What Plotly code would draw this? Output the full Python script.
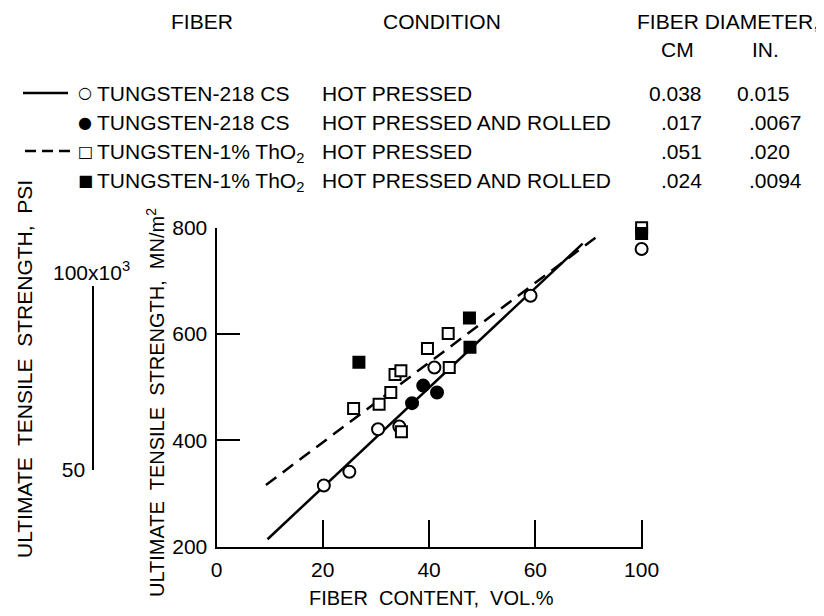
import plotly.graph_objects as go

# ---------------- data ----------------
# x: fiber content, vol.%   y: ultimate tensile strength, MN/m^2
w218_hp_x = [20.2, 25.0, 30.4, 34.4, 41.0, 59.1, 100]
w218_hp_y = [315, 341, 421, 426, 537, 672, 760]

w218_hpr_x = [36.8, 38.9, 41.5]
w218_hpr_y = [470, 503, 490]

wtho2_hp_x = [25.8, 30.6, 32.8, 33.6, 34.7, 34.8, 39.7, 43.6, 43.8, 100]
wtho2_hp_y = [460, 468, 490, 524, 531, 416, 573, 601, 537, 800]

wtho2_hpr_x = [26.8, 47.6, 47.7, 100]
wtho2_hpr_y = [547, 630, 575, 789]

# fitted lines
w218_fit_x = [9.6, 68.9]
w218_fit_y = [214, 770]
wtho2_fit_x = [9.3, 72.1]
wtho2_fit_y = [316, 787]

# axis ticks (the x axis is broken: 100 % sits where 80 would be)
x_tick_values = [0, 20, 40, 60, 100]
y_tick_values = [200, 400, 600, 800]
psi_tick_values = [50, 100]          # ksi
MPA_PER_KSI = 6.89476

# legend / header table
fiber_names = ["TUNGSTEN-218 CS", "TUNGSTEN-218 CS",
               "TUNGSTEN-1% ThO<sub>2</sub>", "TUNGSTEN-1% ThO<sub>2</sub>"]
conditions = ["HOT PRESSED", "HOT PRESSED AND ROLLED",
              "HOT PRESSED", "HOT PRESSED AND ROLLED"]
diam_cm = ["0.038", ".017", ".051", ".024"]
diam_in = ["0.015", ".0067", ".020", ".0094"]
glyphs = ["○", "●", "□", "■"]

# ---------------- layout helpers ----------------
# the page adds an 8 px body margin, so the figure is 8 px smaller
# and all screen positions below are shifted by that offset
PAGE_PAD = 8
W, H = 824 - PAGE_PAD, 616 - PAGE_PAD
FONT = "Liberation Sans, Arial, sans-serif"
BREAK_POS = 80


def bx(v):
    """map fiber content onto the broken axis"""
    return BREAK_POS if v >= 100 else v


def px(x):
    return (x - PAGE_PAD) / W


def py(y):
    return 1 - (y - PAGE_PAD) / H


X_L, X_R = 216.5, 643.2     # screen pixel span of x range
Y_B, Y_T = 546.7, 227.7     # screen pixel span of y range
X_RANGE = [0, 80.3]
Y_RANGE = [200, 800]

ydom = [py(Y_B), py(Y_T)]


def mpa_to_frac(v):
    return ydom[0] + (v - Y_RANGE[0]) / (Y_RANGE[1] - Y_RANGE[0]) * (ydom[1] - ydom[0])


psi_dom = [mpa_to_frac(psi_tick_values[0] * MPA_PER_KSI),
           mpa_to_frac(psi_tick_values[1] * MPA_PER_KSI)]

fig = go.Figure()

fig.add_trace(go.Scatter(x=w218_fit_x, y=w218_fit_y, mode="lines",
                         line=dict(color="black", width=2.5), hoverinfo="skip"))
fig.add_trace(go.Scatter(x=wtho2_fit_x, y=wtho2_fit_y, mode="lines",
                         line=dict(color="black", width=2.5, dash="13px,8px"),
                         hoverinfo="skip"))

mk_line = dict(color="black", width=2)
fig.add_trace(go.Scatter(x=[bx(v) for v in w218_hp_x], y=w218_hp_y, mode="markers",
                         marker=dict(symbol="circle", size=12, color="white", line=mk_line),
                         cliponaxis=False))
fig.add_trace(go.Scatter(x=[bx(v) for v in w218_hpr_x], y=w218_hpr_y, mode="markers",
                         marker=dict(symbol="circle", size=12, color="black", line=mk_line),
                         cliponaxis=False))
fig.add_trace(go.Scatter(x=[bx(v) for v in wtho2_hp_x], y=wtho2_hp_y, mode="markers",
                         marker=dict(symbol="square", size=11, color="white", line=mk_line),
                         cliponaxis=False))
fig.add_trace(go.Scatter(x=[bx(v) for v in wtho2_hpr_x], y=wtho2_hpr_y, mode="markers",
                         marker=dict(symbol="square", size=11, color="black", line=mk_line),
                         cliponaxis=False))
# invisible trace to create the psi axis subplot
fig.add_trace(go.Scatter(x=[0, 0], y=psi_tick_values, yaxis="y2", mode="markers",
                         marker=dict(opacity=0), hoverinfo="skip"))

axis_common = dict(showgrid=False, zeroline=False, showline=True, linecolor="black",
                   linewidth=2, ticks="inside", tickcolor="black", tickwidth=2,
                   tickfont=dict(family=FONT, size=21, color="black"))

fig.update_layout(
    width=W, height=H, showlegend=False,
    margin=dict(l=0, r=0, t=0, b=0, autoexpand=False),
    paper_bgcolor="white", plot_bgcolor="rgba(0,0,0,0)",
    xaxis=dict(domain=[px(X_L), px(X_R)], range=X_RANGE, anchor="y",
               tickvals=[bx(v) for v in x_tick_values],
               ticktext=[str(v) for v in x_tick_values],
               ticklen=27, ticklabelstandoff=3, **axis_common),
    yaxis=dict(domain=ydom, range=Y_RANGE, anchor="x",
               tickvals=y_tick_values, ticktext=[str(v) for v in y_tick_values],
               ticklen=23, ticklabelstandoff=3, **axis_common),
    yaxis2=dict(domain=psi_dom, range=psi_tick_values, anchor="free",
                position=px(93.3), side="left",
                tickvals=psi_tick_values, ticktext=["50", ""],
                ticklen=20, ticklabelstandoff=3, **axis_common),
)

ann = []


def text(x, y, s, xanchor="left", size=21, yanchor="middle", angle=0, family=FONT):
    ann.append(dict(x=px(x), y=py(y), xref="paper", yref="paper", text=s,
                    showarrow=False, xanchor=xanchor, yanchor=yanchor,
                    textangle=angle,
                    font=dict(family=family, size=size, color="black")))


# header
text(202, 21, "FIBER", "center")
text(442, 21, "CONDITION", "center")
text(821, 21, "FIBER DIAMETER,", "right")
text(677, 50, "CM", "center")
text(765, 50, "IN.", "center")

rows = [93, 122, 151, 180]
for i, ry in enumerate(rows):
    text(85, ry, glyphs[i], "center", size=16, family="DejaVu Sans")
    text(95, ry - 13, fiber_names[i], "left", yanchor="top")
    text(320, ry - 13, conditions[i], "left", yanchor="top")
    text(704, ry - 13, diam_cm[i], "right", yanchor="top")
    text(735 if diam_in[i].startswith("0") else 747, ry - 13, diam_in[i], "left", yanchor="top")

# axis titles
text(431, 598, "FIBER  CONTENT,  VOL.%", "center", size=20)
text(155, 403, "ULTIMATE  TENSILE  STRENGTH,  MN/m<sup>2</sup>", "center", size=20, angle=-90)
text(24, 369, "ULTIMATE  TENSILE  STRENGTH,  PSI", "center", size=21, angle=-90)
ann.append(dict(x=px(91), y=psi_tick_values[1], xref="paper", yref="y2",
                text="100x10<sup>3</sup>", showarrow=False, xanchor="center",
                yanchor="bottom", font=dict(family=FONT, size=21, color="black")))

fig.update_layout(annotations=ann)

# legend line samples
fig.add_shape(type="line", xref="paper", yref="paper", x0=px(23), x1=px(68),
              y0=py(rows[0]), y1=py(rows[0]), line=dict(color="black", width=2.5))
fig.add_shape(type="line", xref="paper", yref="paper", x0=px(25), x1=px(70),
              y0=py(rows[2]), y1=py(rows[2]), line=dict(color="black", width=2.5, dash="11px,6px"))

fig.write_html("out.html")
